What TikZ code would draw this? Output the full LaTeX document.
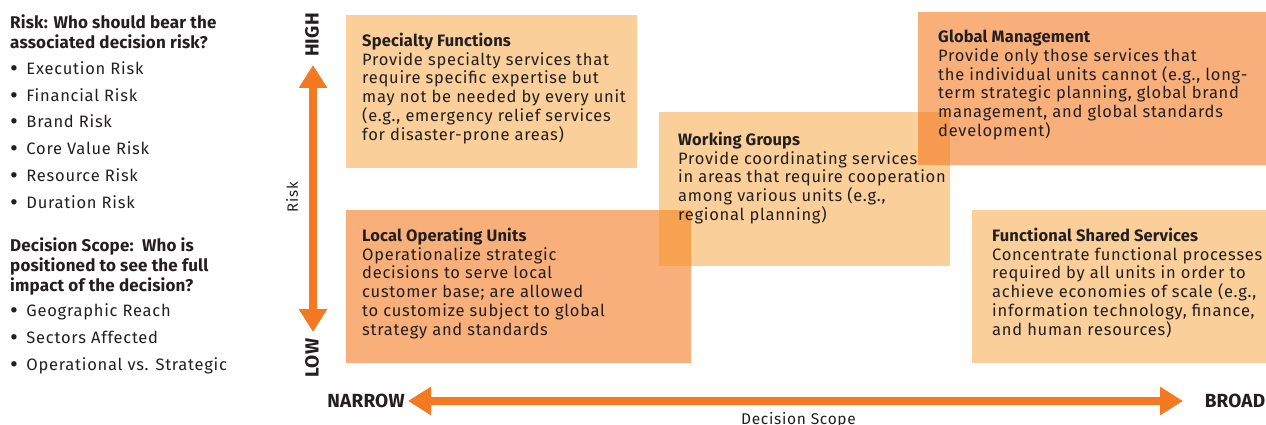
\documentclass[tikz,border=0pt]{standalone}
\usepackage{fontspec}
\setmainfont{Fira Sans}[LetterSpace=4.5, BoldFeatures={LetterSpace=1.0}]
\usetikzlibrary{arrows.meta,positioning}
\definecolor{axisorange}{HTML}{F47920}
\definecolor{boxorange}{HTML}{F7941D}
\definecolor{inkgray}{HTML}{231F20}
\newcommand{\listdot}{{\fontsize{24}{26.7}\selectfont\raisebox{-2pt}{\textbullet}}\hspace{8.5pt}}
\tikzset{font=\fontsize{16.5}{18.7}\selectfont}
\tikzset{every node/.append style={text=inkgray}}
\tikzset{lightbox/.style={fill=boxorange, fill opacity=0.45, text opacity=1, inner sep=0pt, anchor=north west}}
\tikzset{darkbox/.style={lightbox, fill=axisorange, fill opacity=0.6}}
\tikzset{boxtext/.style={align=left, inner sep=0pt}}
\tikzset{listtext/.style={boxtext, font=\fontsize{16.5}{26.7}\selectfont}}
\tikzset{listhead/.style={boxtext, font=\fontsize{17}{20}\selectfont\bfseries}}
\tikzset{axislabel/.style={font=\fontsize{19}{20}\selectfont\bfseries}}
\tikzset{axisarrow/.style={draw=axisorange, line width=7.5pt,
    {Triangle[width=27pt,length=23pt]}-{Triangle[width=27pt,length=23pt]}}}

\begin{document}
\begin{tikzpicture}[x=1pt,y=-1pt]
\useasboundingbox (0,0) rectangle (1266,425);

% left column
\node[listhead, anchor=north west] (riskhead) at (10,14.5) {Risk: Who should bear the\\associated decision risk?};
\node[listtext, below right=12.5pt and 0pt of riskhead.south west] (risklist) {\listdot Execution Risk\\\listdot Financial Risk\\\listdot Brand Risk\\\listdot Core Value Risk\\\listdot Resource Risk\\\listdot Duration Risk};
\node[listhead, below right=27pt and 0pt of risklist.south west] (scopehead) {Decision Scope:\ \ Who is\\positioned to see the full\\impact of the decision?};
\node[listtext, below right=8.5pt and 0pt of scopehead.south west] (scopelist) {\listdot Geographic Reach\\\listdot Sectors Affected\\\listdot Operational vs. Strategic};

% boxes
\node[lightbox, minimum width=291pt, minimum height=153pt] (spec) at (346,15) {};
\node[boxtext, below right=18pt and 16pt of spec.north west] (spectext) {\textbf{Specialty Functions}\\Provide specialty services that\\require specific expertise but\\may not be needed by every unit\\(e.g., emergency relief services\\for disaster-prone areas)};

\node[darkbox, minimum width=345pt, minimum height=153pt] (local) at (346,210) {};
\node[boxtext, below right=18pt and 16pt of local.north west] (localtext) {\textbf{Local Operating Units}\\Operationalize strategic\\decisions to serve local\\customer base; are allowed\\to customize subject to global\\strategy and standards};

\node[lightbox, minimum width=291pt, minimum height=154pt] (work) at (659,112) {};
\node[boxtext, below right=20pt and 19pt of work.north west] (worktext) {\textbf{Working Groups}\\Provide coordinating services\\in areas that require cooperation\\among various units (e.g.,\\regional planning)};

\node[darkbox, minimum width=348pt, minimum height=153pt] (global) at (918,12) {};
\node[boxtext, below right=18pt and 20pt of global.north west] (globaltext) {\textbf{Global Management}\\Provide only those services that\\the individual units cannot (e.g., long-\\term strategic planning, global brand\\management, and global standards\\development)};

\node[lightbox, minimum width=294pt, minimum height=153pt] (shared) at (972,210) {};
\node[boxtext, below right=18pt and 20pt of shared.north west] (sharedtext) {\textbf{Functional Shared Services}\\Concentrate functional processes\\required by all units in order to\\achieve economies of scale (e.g.,\\information technology, finance,\\and human resources)};

% axes
\node[axislabel, rotate=90] (high) at (312,35) {HIGH};
\node[axislabel, rotate=90] (low) at (312,358) {LOW};
\node[rotate=90, font=\fontsize{15}{16}\selectfont] (risk) at (292,197) {Risk};
\coordinate (risktop) at (313,65);
\coordinate (riskbot) at (313,332);
\draw[axisarrow] (risktop) -- (riskbot);

\node[axislabel] (narrow) at (366,401) {NARROW};
\node[axislabel] (broad) at (1235,401) {BROAD};
\node[font=\fontsize{15.5}{17}\selectfont, anchor=base, inner sep=0pt] (scope) at (798.5,424) {Decision Scope};
\coordinate (scopeleft) at (408,401);
\coordinate (scoperight) at (1183,401);
\draw[axisarrow] (scopeleft) -- (scoperight);

\end{tikzpicture}
\end{document}
